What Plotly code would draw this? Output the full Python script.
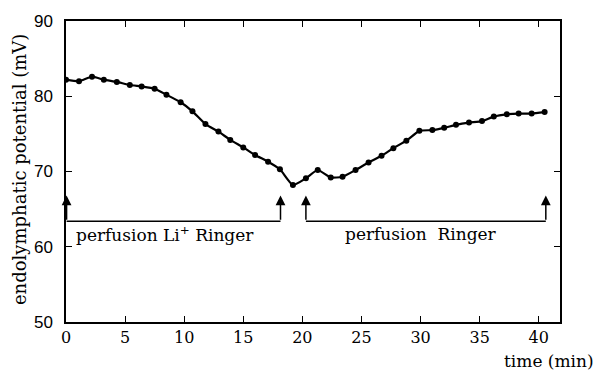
import plotly.graph_objects as go

# time (min) and endolymphatic potential (mV)
time_min = [0.0, 1.1, 2.2, 3.2, 4.3, 5.4, 6.4, 7.5, 8.5, 9.7, 10.7, 11.8, 12.9,
            13.9, 15.0, 16.0, 17.1, 18.1, 19.2, 20.3, 21.3, 22.4, 23.4, 24.5,
            25.6, 26.7, 27.7, 28.8, 29.9, 31.0, 32.0, 33.0, 34.1, 35.2, 36.2,
            37.3, 38.3, 39.4, 40.5]
potential_mv = [82.2, 82.0, 82.6, 82.2, 81.9, 81.5, 81.3, 81.0, 80.2, 79.2, 78.0,
                76.3, 75.3, 74.2, 73.2, 72.2, 71.3, 70.3, 68.2, 69.1, 70.2, 69.2,
                69.3, 70.2, 71.2, 72.1, 73.1, 74.1, 75.4, 75.5, 75.8, 76.2, 76.5,
                76.7, 77.3, 77.6, 77.7, 77.7, 77.9]

x_ticks = [0, 5, 10, 15, 20, 25, 30, 35, 40]
y_ticks = [50, 60, 70, 80, 90]

# perfusion periods (start, end, label, label centre)
periods = [(0.05, 18.15, "perfusion Li<sup>+</sup> Ringer", 8.4),
           (20.3, 40.6, "perfusion  Ringer", 30.0)]
bracket_y = 63.4
arrow_tip_y = 66.8
label_y = 61.7

serif = "DejaVu Serif"

fig = go.Figure()
fig.add_trace(go.Scatter(
    x=time_min, y=potential_mv, mode="lines+markers",
    line=dict(color="black", width=2.2, shape="spline", smoothing=0.5),
    marker=dict(color="black", size=6),
    showlegend=False, hoverinfo="skip"))

shapes = []
annotations = []
for x0, x1, label, xc in periods:
    shapes.append(dict(type="line", xref="x", yref="y", x0=x0, x1=x1,
                       y0=bracket_y, y1=bracket_y,
                       line=dict(color="black", width=1.5)))
    for xa in (x0, x1):
        annotations.append(dict(x=xa, y=arrow_tip_y, ax=xa, ay=bracket_y,
                                xref="x", yref="y", axref="x", ayref="y",
                                showarrow=True, arrowhead=2, arrowsize=1.3,
                                arrowwidth=1.5, arrowcolor="black", text=""))
    annotations.append(dict(x=xc, y=label_y, xref="x", yref="y", text=label,
                            showarrow=False,
                            font=dict(family=serif, size=17, color="black")))

annotations.append(dict(x=1.073, y=-0.13, xref="paper", yref="paper",
                        text="time (min)", showarrow=False, xanchor="right",
                        yanchor="middle",
                        font=dict(family=serif, size=17, color="black")))
annotations.append(dict(x=-0.093, y=0.505, xref="paper", yref="paper",
                        text="endolymphatic potential (mV)", showarrow=False,
                        textangle=-90, xanchor="center", yanchor="middle",
                        font=dict(family=serif, size=18, color="black")))

fig.update_layout(
    width=596, height=372,
    margin=dict(l=66, r=36, t=14, b=50),
    paper_bgcolor="white", plot_bgcolor="white",
    shapes=shapes, annotations=annotations,
    xaxis=dict(range=[0, 41.8], tickvals=x_ticks, ticks="inside", ticklen=6,
               tickwidth=1.2, tickcolor="black", showline=True, linecolor="black",
               linewidth=1.5, mirror="ticks", showgrid=False, zeroline=False,
               tickfont=dict(family=serif, size=16, color="black")),
    yaxis=dict(range=[50, 90], tickvals=y_ticks, ticks="inside", ticklen=6,
               tickwidth=1.2, tickcolor="black", showline=True, linecolor="black",
               linewidth=1.5, mirror="ticks", showgrid=False, zeroline=False,
               ticklabelstandoff=8,
               tickfont=dict(family="Liberation Sans", size=17, color="black")),
)

fig.write_html("out.html")
